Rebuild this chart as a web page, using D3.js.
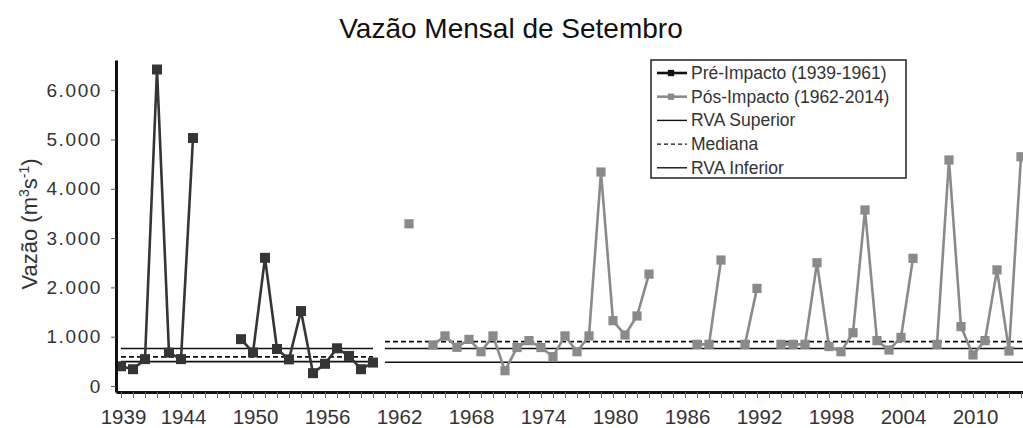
<!DOCTYPE html>
<html>
<head>
<meta charset="utf-8">
<script src="https://cdn.jsdelivr.net/npm/d3@7"></script>
<style>
  body { margin: 0; background: #fff; }
  svg { display: block; font-family: Arial, "Liberation Sans", sans-serif; }
</style>
</head>
<body>
<div id="chart"></div>
<script>
// Vazão mensal de setembro (m3/s)
const preYears = d3.range(1939, 1961);
const preValues = [400, 340, 545, 6420, 675, 545, 5030, null, null, null,
  950, 680, 2600, 750, 540, 1520, 260, 450, 765, 610, 340, 475];

const postYears = d3.range(1961, 2015);
const postValues = [null, null, 3290, null, 830, 1015, 785, 945, 695, 1015,
  310, 780, 920, 780, 595, 1015, 695, 1015, 4340, 1325,
  1035, 1420, 2270, null, null, null, 845, 845, 2555, null,
  845, 1980, null, 845, 845, 845, 2500, 800, 695, 1080,
  3570, 920, 730, 985, 2590, null, 845, 4585, 1205, 630,
  920, 2355, 710, 4650];

// Reference lines per period (pre / post impact)
const periodStart = [1939, 1961];
const periodEnd = [1960, 2015];
const rvaSuperior = [760, 760];
const mediana = [590, 900];
const rvaInferior = [495, 480];

const yTicks = [0, 1000, 2000, 3000, 4000, 5000, 6000];
const xLabelYears = [1939, 1944, 1950, 1956, 1962, 1968, 1974, 1980, 1986, 1992, 1998, 2004, 2010];

const legendLabels = ['Pré-Impacto (1939-1961)', 'Pós-Impacto (1962-2014)', 'RVA Superior', 'Mediana', 'RVA Inferior'];

const preColor = '#353535', postColor = '#8a8a8a';

const width = 1023, height = 428;
const svg = d3.select('#chart').append('svg')
  .attr('width', width)
  .attr('height', height);

// Scales (12 px per year, axis starts a bit before 1939)
const x = d3.scaleLinear()
  .domain([1938.583, 2014.167])
  .range([116, 1023]);

const y = d3.scaleLinear()
  .domain([-122, 6613])
  .range([392, 60]);

const fmt = d3.formatLocale({ decimal: ',', thousands: '.', grouping: [3], currency: ['R$', ''] }).format(',d');

// Title
svg.append('text')
  .attr('x', 511)
  .attr('y', 38)
  .attr('text-anchor', 'middle')
  .style('font-size', '28px')
  .attr('fill', '#111')
  .text('Vazão Mensal de Setembro');

// Y axis title
const yTitle = svg.append('text')
  .attr('transform', 'translate(37, 224) rotate(-90)')
  .attr('text-anchor', 'middle')
  .style('font-size', '22px')
  .attr('fill', '#333');
yTitle.append('tspan').text('Vazão (m');
yTitle.append('tspan').attr('dy', -8).style('font-size', '14px').text('3');
yTitle.append('tspan').attr('dy', 8).text('s');
yTitle.append('tspan').attr('dy', -8).style('font-size', '14px').text('-1');
yTitle.append('tspan').attr('dy', 8).text(')');

// Reference lines (drawn under the series)
const refGroup = svg.append('g');
function refLine(values, dash) {
  refGroup.selectAll(null)
    .data(values.map((v, i) => ({ v, x0: periodStart[i], x1: periodEnd[i] })))
    .enter()
    .append('line')
    .attr('x1', d => x(d.x0))
    .attr('x2', d => x(d.x1))
    .attr('y1', d => y(d.v))
    .attr('y2', d => y(d.v))
    .attr('stroke', '#111')
    .attr('stroke-width', 1.6)
    .attr('stroke-dasharray', dash);
}
refLine(rvaSuperior, null);
refLine(mediana, '5,3');
refLine(rvaInferior, null);

// Series
function drawSeries(years, values, color, size) {
  const data = years.map((yr, i) => ({ yr, v: values[i] }));
  const line = d3.line()
    .defined(d => d.v !== null)
    .x(d => x(d.yr))
    .y(d => y(d.v));

  svg.append('path')
    .datum(data)
    .attr('fill', 'none')
    .attr('stroke', color)
    .attr('stroke-width', 2.6)
    .attr('d', line);

  svg.selectAll(null)
    .data(data.filter(d => d.v !== null))
    .enter()
    .append('path')
    .attr('d', d3.symbol(d3.symbolSquare).size(size))
    .attr('transform', d => `translate(${x(d.yr)}, ${y(d.v)})`)
    .attr('fill', color);
}
drawSeries(preYears, preValues, preColor, 100);
drawSeries(postYears, postValues, postColor, 85);

// Axes
const xAxis = svg.append('g')
  .attr('transform', 'translate(0, 392)')
  .call(d3.axisBottom(x)
    .tickValues(d3.range(1939, 2015))
    .tickSize(6)
    .tickSizeOuter(0)
    .tickPadding(11)
    .tickFormat(d => xLabelYears.includes(d) ? d : ''));
xAxis.select('.domain').attr('stroke', '#111').attr('stroke-width', 3);
xAxis.selectAll('.tick line').attr('stroke', '#666');
xAxis.selectAll('text').style('font-size', '20.5px').attr('dx', 2).attr('fill', '#333');

const yAxis = svg.append('g')
  .attr('transform', 'translate(116, 0)')
  .call(d3.axisLeft(y)
    .tickValues(yTicks)
    .tickSize(5)
    .tickSizeOuter(0)
    .tickPadding(9)
    .tickFormat(fmt));
yAxis.select('.domain').attr('stroke', '#111').attr('stroke-width', 3);
yAxis.selectAll('.tick line').attr('stroke', '#555');
yAxis.selectAll('text').style('font-size', '19px').style('letter-spacing', '1.6px').attr('fill', '#333');

// Legend
const legend = svg.append('g');
legend.append('rect')
  .attr('x', 651)
  .attr('y', 60)
  .attr('width', 255)
  .attr('height', 118)
  .attr('fill', '#fff')
  .attr('stroke', '#222')
  .attr('stroke-width', 1.5);

const legendStyle = [
  { color: '#111', dash: null, marker: true, w: 2.6 },
  { color: postColor, dash: null, marker: true, w: 2.6 },
  { color: '#111', dash: null, marker: false, w: 1.4 },
  { color: '#111', dash: '4,3', marker: false, w: 1.4 },
  { color: '#111', dash: null, marker: false, w: 1.4 }
];

legendLabels.forEach((label, i) => {
  const ly = 73 + i * 23.7;
  const s = legendStyle[i];
  legend.append('line')
    .attr('x1', 657).attr('x2', 687)
    .attr('y1', ly).attr('y2', ly)
    .attr('stroke', s.color)
    .attr('stroke-width', s.w)
    .attr('stroke-dasharray', s.dash);
  if (s.marker) {
    legend.append('path')
      .attr('d', d3.symbol(d3.symbolSquare).size(40))
      .attr('transform', `translate(671, ${ly})`)
      .attr('fill', s.color);
  }
  legend.append('text')
    .attr('x', 691)
    .attr('y', ly + 6)
    .style('font-size', '17.5px')
    .attr('fill', '#333')
    .text(label);
});
</script>
</body>
</html>
